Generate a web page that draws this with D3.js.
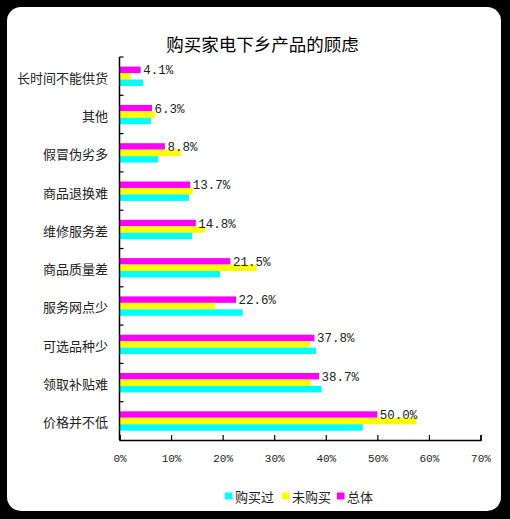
<!DOCTYPE html>
<html><head><meta charset="utf-8">
<script src="https://cdn.jsdelivr.net/npm/d3@7/dist/d3.min.js"></script>
<style>html,body{margin:0;padding:0;background:#000;}svg{display:block;}</style>
</head><body>
<svg id="chart" width="510" height="519"></svg>
<script>
const categories = ["长时间不能供货","其他","假冒伪劣多","商品退换难","维修服务差","商品质量差","服务网点少","可选品种少","领取补贴难","价格并不低"];
const seriesNames = ["总体","未购买","购买过"];
const totalValues = [4.1, 6.3, 8.8, 13.7, 14.8, 21.5, 22.6, 37.8, 38.7, 50.0];
const notBoughtValues = [2.2, 6.9, 11.9, 14.2, 16.6, 26.6, 18.6, 36.9, 37.1, 57.6];
const boughtValues = [4.6, 6.1, 7.5, 13.5, 14.1, 19.5, 23.9, 38.1, 39.2, 47.2];
const xTicks = [0, 10, 20, 30, 40, 50, 60, 70];
const legendOrder = ["购买过","未购买","总体"];
const colors = {"总体":"#FF00FF","未购买":"#FFFF00","购买过":"#00FFFF"};
const seriesData = {"总体": totalValues, "未购买": notBoughtValues, "购买过": boughtValues};

const svg = d3.select("#chart");
svg.append("rect").attr("x",7).attr("y",7).attr("width",494).attr("height",504)
  .attr("rx",14).attr("ry",14).attr("fill","#fff");

svg.append("text").attr("x",262.5).attr("y",43).attr("text-anchor","middle")
  .attr("dominant-baseline","central")
  .style("font-family","'Noto Sans CJK SC'").style("font-size","17.5px").attr("fill","#000")
  .text("购买家电下乡产品的顾虑");

const plotLeft = 119.5, plotRight = 480.5, plotTop = 57, plotBottom = 440;
const x = d3.scaleLinear().domain([0,70]).range([plotLeft,plotRight]);
const y = d3.scaleBand().domain(categories).range([plotTop,plotBottom]);
const ys = d3.scaleBand().domain(seriesNames).range([9.6, 29]);

const g = svg.append("g");
seriesNames.forEach(s => {
  g.selectAll(null).data(categories.map((c,i)=>({c, v: seriesData[s][i]})))
    .enter().append("rect")
    .attr("x", x(0))
    .attr("y", d => y(d.c) + ys(s))
    .attr("width", d => x(d.v) - x(0))
    .attr("height", ys.bandwidth())
    .attr("fill", colors[s]);
});

// value labels for total
g.selectAll(null).data(categories.map((c,i)=>({c, v: totalValues[i]})))
  .enter().append("text")
  .attr("x", d => x(d.v) + 2.5)
  .attr("y", d => y(d.c) + ys("总体") + ys.bandwidth()/2 + 1.5)
  .attr("dominant-baseline","central")
  .style("font-family","'Liberation Mono'").style("font-size","12.5px").attr("fill","#222")
  .text(d => d.v.toFixed(1) + "%");

// category labels
g.selectAll(null).data(categories).enter().append("text")
  .attr("x", 108).attr("y", d => y(d) + y.bandwidth()/2 + 1)
  .attr("text-anchor","end").attr("dominant-baseline","central")
  .style("font-family","'Noto Sans CJK SC'").style("font-size","13px").attr("fill","#222")
  .text(d => d);

// y axis with inward ticks at band boundaries
const yAxisG = svg.append("g");
yAxisG.append("line").attr("x1",plotLeft).attr("x2",plotLeft).attr("y1",plotTop).attr("y2",plotBottom)
  .attr("stroke","#000").attr("stroke-width",1.5);
yAxisG.selectAll(null).data(categories).enter().append("line")
  .attr("x1",plotLeft).attr("x2",plotLeft+4)
  .attr("y1", d => y(d)).attr("y2", d => y(d))
  .attr("stroke","#000").attr("stroke-width",1.2);

// x axis
const xAxis = d3.axisBottom(x).tickValues(xTicks).tickSize(-5).tickPadding(14).tickFormat(d => d + "%");
const xg = svg.append("g").attr("transform",`translate(0,${plotBottom})`).call(xAxis);
xg.select(".domain").attr("stroke","#000").attr("stroke-width",1.5);
xg.selectAll(".tick line").attr("stroke","#000").attr("stroke-width",1.2);
xg.selectAll(".tick text").style("font-family","'Liberation Mono'").style("font-size","11px").attr("fill","#222");

// legend
const legendX = [225, 282, 337];
const lg = svg.append("g");
legendOrder.forEach((s,i) => {
  lg.append("rect").attr("x", legendX[i]).attr("y", 492.5).attr("width",7.5).attr("height",7)
    .attr("fill", colors[s]);
  lg.append("text").attr("x", legendX[i] + 10).attr("y", 496.5)
    .attr("dominant-baseline","central")
    .style("font-family","'Noto Sans CJK SC'").style("font-size","13px").attr("fill","#222")
    .text(s);
});
</script>
</body></html>
